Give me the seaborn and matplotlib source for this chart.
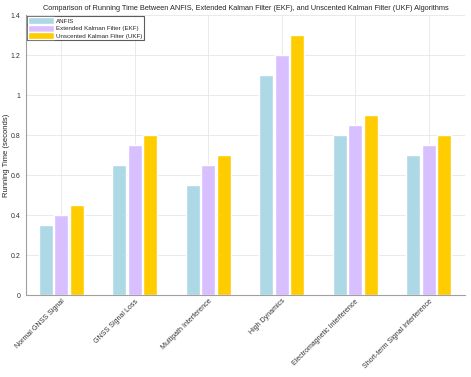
import pandas as pd
import matplotlib
matplotlib.use('Agg')
import matplotlib.pyplot as plt
import seaborn as sns

# Datos
scenarios = ['Normal GNSS Signal', 'GNSS Signal Loss', 'Multipath Interference',
             'High Dynamics', 'Electromagnetic Interference', 'Short-term Signal Interference']
anfis = [0.35, 0.65, 0.55, 1.10, 0.80, 0.70]
ekf = [0.40, 0.75, 0.65, 1.20, 0.85, 0.75]
ukf = [0.45, 0.80, 0.70, 1.30, 0.90, 0.80]
methods = ['ANFIS', 'Extended Kalman Filter (EKF)', 'Unscented Kalman Filter (UKF)']
colors = ['#ADD8E6', '#D8BFFF', '#FFCC00']

rows = []
for m, vals in zip(methods, [anfis, ekf, ukf]):
    for s, v in zip(scenarios, vals):
        rows.append({'Scenario': s, 'Method': m, 'Time': v})
df = pd.DataFrame(rows)

sns.set_style('white')
plt.rcParams['font.family'] = ['Liberation Sans', 'DejaVu Sans']

fig = plt.figure(figsize=(4.71, 3.77), dpi=100)
ax = fig.add_axes([0.055, 0.2175, 0.932, 0.7425])
sns.barplot(data=df, x='Scenario', y='Time', hue='Method', palette=colors,
            width=0.63, gap=0.1, ax=ax, saturation=1, errorbar=None)

ax.set_ylim(0, 1.4)
ax.set_xlim(-0.48, 5.49)
ax.set_yticks([0, 0.2, 0.4, 0.6, 0.8, 1.0, 1.2, 1.4])
ax.set_yticklabels(['0', '0.2', '0.4', '0.6', '0.8', '1', '1.2', '1.4'])
ax.grid(True, color='#e6e6e6', linewidth=0.6)
ax.set_axisbelow(True)
for side in ['top', 'right']:
    ax.spines[side].set_visible(False)
for side in ['left', 'bottom']:
    ax.spines[side].set_color('#a0a0a0')
    ax.spines[side].set_linewidth(0.8)
ax.tick_params(axis='both', labelsize=5, colors='#333333', direction='in',
               length=2.5, width=0.5, pad=2)
ax.tick_params(axis='y', pad=4)
plt.setp(ax.get_xticklabels(), rotation=45, ha='right', rotation_mode='anchor')
ax.set_xlabel('')
ax.set_ylabel('Running Time (seconds)', fontsize=5.5, color='#222222')
ax.yaxis.set_label_coords(-0.036, 0.5)
ax.set_title('Comparison of Running Time Between ANFIS, Extended Kalman Filter (EKF), '
             'and Unscented Kalman Filter (UKF) Algorithms', fontsize=5.3, pad=4)

leg = ax.legend(loc='upper left', fontsize=4.5, frameon=True, fancybox=False,
                borderaxespad=0.15, handlelength=4.2, handleheight=1.3,
                handletextpad=0.3, borderpad=0.2, labelspacing=0.1)
leg.get_frame().set_edgecolor('#333333')
leg.get_frame().set_linewidth(0.8)

fig.savefig('out.png', dpi=100)
